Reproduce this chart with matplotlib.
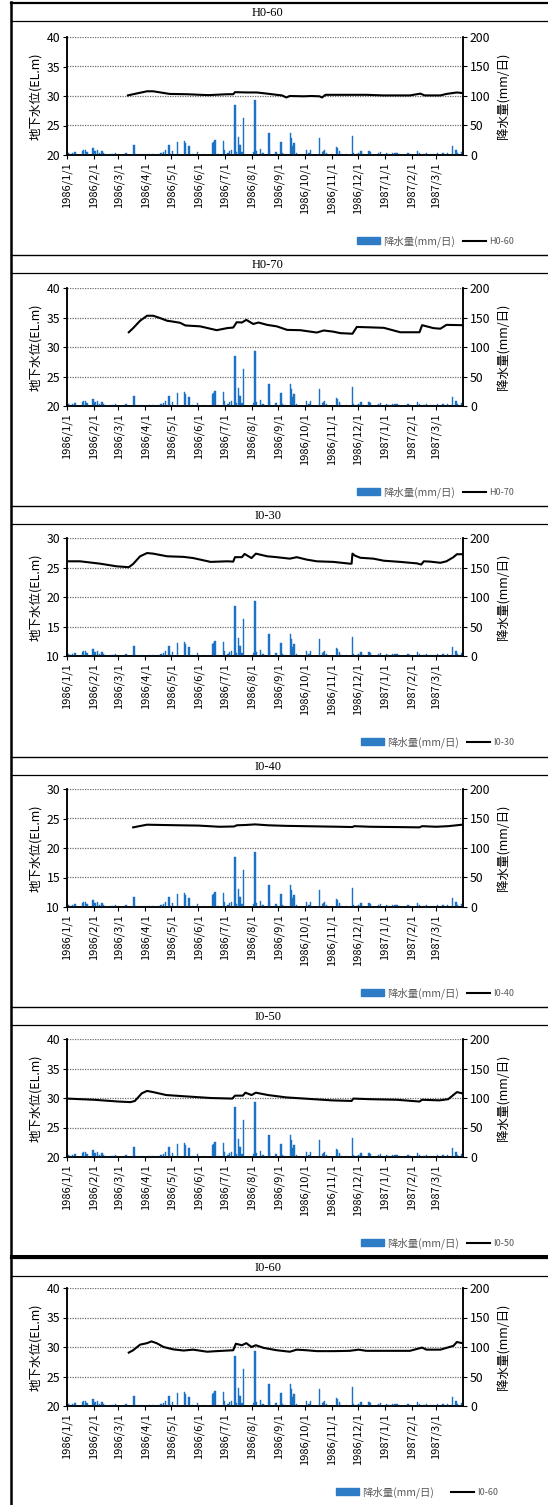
import matplotlib
matplotlib.use("Agg")
import matplotlib.pyplot as plt
from matplotlib.lines import Line2D
from matplotlib.patches import Patch
import pandas as pd

plt.rcParams["font.family"] = ["Noto Sans CJK JP", "DejaVu Sans"]

# ── Data ──────────────────────────────────────────────────────────────────────
rain_dates = [
    "1986-01-02", "1986-01-03", "1986-01-05", "1986-01-07", "1986-01-10",
    "1986-01-19", "1986-01-20", "1986-01-22", "1986-01-24", "1986-01-31",
    "1986-02-02", "1986-02-05", "1986-02-07", "1986-02-10", "1986-02-12",
    "1986-02-14", "1986-02-20", "1986-02-23", "1986-02-26", "1986-03-10",
    "1986-03-19", "1986-03-21", "1986-03-25", "1986-03-29", "1986-04-05",
    "1986-04-10", "1986-04-15", "1986-04-19", "1986-04-22", "1986-04-24",
    "1986-04-28", "1986-04-29", "1986-05-02", "1986-05-08", "1986-05-16",
    "1986-05-17", "1986-05-21", "1986-05-25", "1986-05-31", "1986-06-08",
    "1986-06-17", "1986-06-18", "1986-06-19", "1986-06-20", "1986-06-24",
    "1986-06-30", "1986-07-01", "1986-07-05", "1986-07-07", "1986-07-09",
    "1986-07-13", "1986-07-14", "1986-07-17", "1986-07-18", "1986-07-19",
    "1986-07-21", "1986-07-23", "1986-08-04", "1986-08-05", "1986-08-06",
    "1986-08-11", "1986-08-14", "1986-08-21", "1986-08-22", "1986-08-29",
    "1986-09-04", "1986-09-05", "1986-09-07", "1986-09-09", "1986-09-15",
    "1986-09-16", "1986-09-17", "1986-09-19", "1986-09-22", "1986-10-03",
    "1986-10-06", "1986-10-08", "1986-10-18", "1986-10-22", "1986-10-23",
    "1986-10-24", "1986-10-26", "1986-11-07", "1986-11-08", "1986-11-10",
    "1986-11-12", "1986-11-18", "1986-11-25", "1986-11-26", "1986-11-30",
    "1986-12-02", "1986-12-04", "1986-12-05", "1986-12-07", "1986-12-14",
    "1986-12-16", "1986-12-25", "1986-12-27", "1987-01-03", "1987-01-05",
    "1987-01-10", "1987-01-13", "1987-01-15", "1987-01-18", "1987-01-28",
    "1987-01-30", "1987-02-08", "1987-02-10", "1987-02-15", "1987-02-18",
    "1987-02-23", "1987-02-26", "1987-03-03", "1987-03-09", "1987-03-14",
    "1987-03-20", "1987-03-24", "1987-03-26", "1987-03-31",
]
rain_mm = [
    4, 3, 2, 3, 5,
    7, 8, 8, 5, 12,
    6, 8, 3, 6, 3,
    2, 2, 2, 3, 3,
    17, 2, 1, 1, 2,
    1, 2, 3, 5, 8,
    17, 3, 7, 22, 24,
    20, 16, 2, 5, 2,
    20, 20, 22, 25, 2,
    24, 8, 3, 6, 8,
    85, 5, 30, 17, 17,
    5, 63, 5, 94, 6,
    11, 3, 38, 8, 5,
    22, 3, 2, 2, 38,
    28, 16, 21, 3, 9,
    4, 8, 29, 5, 7,
    8, 4, 13, 12, 7,
    2, 2, 33, 3, 2,
    3, 4, 6, 2, 7,
    5, 3, 5, 4, 2,
    3, 3, 3, 2, 3,
    2, 7, 3, 2, 4,
    2, 2, 3, 3, 3,
    16, 8, 4, 5,
]

h060_dates = [
    "1986-03-12", "1986-03-18", "1986-04-03", "1986-04-10", "1986-04-29",
    "1986-05-19", "1986-06-03", "1986-06-13", "1986-07-04", "1986-07-11",
    "1986-07-13", "1986-07-27", "1986-08-07", "1986-08-19", "1986-08-30",
    "1986-09-05", "1986-09-10", "1986-09-14", "1986-09-30", "1986-10-09",
    "1986-10-18", "1986-10-21", "1986-10-25", "1986-11-22", "1986-12-11",
    "1986-12-31", "1987-01-30", "1987-02-11", "1987-02-16", "1987-03-06",
    "1987-03-13", "1987-03-25", "1987-03-31",
]
h060_level = [
    30.1, 30.3, 30.8, 30.8, 30.35,
    30.3, 30.2, 30.15, 30.3, 30.3,
    30.65, 30.6, 30.6, 30.4, 30.2,
    30.1, 29.75, 30.0, 29.95, 30.0,
    29.95, 29.75, 30.2, 30.2, 30.2,
    30.1, 30.1, 30.4, 30.1, 30.1,
    30.35, 30.6, 30.5,
]

h070_dates = [
    "1986-03-13", "1986-03-18", "1986-03-26", "1986-04-03", "1986-04-10",
    "1986-04-18", "1986-04-26", "1986-05-03", "1986-05-11", "1986-05-17",
    "1986-06-03", "1986-06-22", "1986-07-04", "1986-07-11", "1986-07-15",
    "1986-07-21", "1986-07-26", "1986-08-03", "1986-08-09", "1986-08-19",
    "1986-08-30", "1986-09-11", "1986-09-26", "1986-10-15", "1986-10-23",
    "1986-11-03", "1986-11-11", "1986-11-25", "1986-11-30", "1986-12-11",
    "1986-12-31", "1987-01-19", "1987-02-07", "1987-02-10", "1987-02-13",
    "1987-02-26", "1987-03-06", "1987-03-13", "1987-03-31",
]
h070_level = [
    32.5, 33.2, 34.45, 35.3, 35.3,
    34.9, 34.45, 34.3, 34.1, 33.65,
    33.5, 32.85, 33.2, 33.3, 34.2,
    34.15, 34.6, 33.9, 34.15, 33.75,
    33.5, 32.9, 32.85, 32.45, 32.8,
    32.6, 32.35, 32.25, 33.4, 33.35,
    33.25, 32.5, 32.5, 32.5, 33.7,
    33.2, 33.1, 33.75, 33.7,
]

i030_dates = [
    "1986-01-01", "1986-01-16", "1986-02-08", "1986-02-27", "1986-03-13",
    "1986-03-18", "1986-03-26", "1986-04-03", "1986-04-10", "1986-04-26",
    "1986-05-15", "1986-05-26", "1986-06-15", "1986-07-04", "1986-07-11",
    "1986-07-13", "1986-07-21", "1986-07-24", "1986-08-01", "1986-08-06",
    "1986-08-19", "1986-08-30", "1986-09-14", "1986-09-22", "1986-10-03",
    "1986-10-15", "1986-11-03", "1986-11-22", "1986-11-24", "1986-11-25",
    "1986-11-28", "1986-12-04", "1986-12-19", "1986-12-31", "1987-01-19",
    "1987-02-07", "1987-02-12", "1987-02-15", "1987-02-22", "1987-03-06",
    "1987-03-13", "1987-03-21", "1987-03-25", "1987-03-31",
]
i030_level = [
    26.05, 26.05, 25.65, 25.2, 25.05,
    25.6, 26.9, 27.45, 27.35, 26.9,
    26.8, 26.6, 25.95, 26.05, 26.0,
    26.75, 26.75, 27.3, 26.6, 27.35,
    26.9, 26.75, 26.5, 26.75, 26.35,
    26.05, 25.95, 25.65, 25.65, 27.35,
    27.0, 26.65, 26.5, 26.15, 25.95,
    25.7, 25.5, 26.05, 26.0, 25.8,
    26.05, 26.75, 27.25, 27.25,
]

i040_dates = [
    "1986-03-18", "1986-03-25", "1986-04-03", "1986-04-20", "1986-05-10",
    "1986-06-01", "1986-06-25", "1986-07-12", "1986-07-15", "1986-07-25",
    "1986-08-05", "1986-08-20", "1986-09-10", "1986-10-01", "1986-10-20",
    "1986-11-10", "1986-11-25", "1986-11-27", "1986-12-15", "1987-01-15",
    "1987-02-10", "1987-02-13", "1987-03-01", "1987-03-15", "1987-03-31",
]
i040_level = [
    23.5, 23.7, 23.95, 23.9, 23.85,
    23.8, 23.6, 23.65, 23.85, 23.9,
    24.0, 23.85, 23.75, 23.7, 23.65,
    23.6, 23.55, 23.7, 23.6, 23.55,
    23.5, 23.7, 23.6, 23.7, 23.95,
]

i050_dates = [
    "1986-01-01", "1986-02-01", "1986-03-01", "1986-03-15", "1986-03-20",
    "1986-03-28", "1986-04-03", "1986-04-10", "1986-04-25", "1986-05-15",
    "1986-06-15", "1986-07-10", "1986-07-13", "1986-07-22", "1986-07-25",
    "1986-08-01", "1986-08-06", "1986-08-20", "1986-09-10", "1986-10-01",
    "1986-11-01", "1986-11-24", "1986-11-26", "1986-12-15", "1987-01-15",
    "1987-02-10", "1987-02-13", "1987-03-05", "1987-03-15", "1987-03-25",
    "1987-03-31",
]
i050_level = [
    29.9, 29.7, 29.4, 29.3, 29.5,
    30.8, 31.2, 31.0, 30.5, 30.3,
    30.0, 29.9, 30.4, 30.4, 30.9,
    30.5, 30.9, 30.5, 30.1, 29.9,
    29.6, 29.5, 29.9, 29.8, 29.7,
    29.4, 29.7, 29.6, 29.8, 31.0,
    30.8,
]

i060_dates = [
    "1986-03-13", "1986-03-18", "1986-03-26", "1986-04-03", "1986-04-08",
    "1986-04-14", "1986-04-22", "1986-05-03", "1986-05-15", "1986-05-26",
    "1986-06-11", "1986-06-22", "1986-07-11", "1986-07-14", "1986-07-21",
    "1986-07-26", "1986-08-01", "1986-08-06", "1986-08-15", "1986-08-30",
    "1986-09-14", "1986-09-22", "1986-10-03", "1986-10-15", "1986-11-03",
    "1986-11-22", "1986-12-02", "1986-12-11", "1986-12-31", "1987-01-30",
    "1987-02-13", "1987-02-18", "1987-03-06", "1987-03-13", "1987-03-21",
    "1987-03-25", "1987-03-31",
]
i060_level = [
    29.05, 29.45, 30.4, 30.65, 30.95,
    30.65, 30.0, 29.6, 29.4, 29.55,
    29.2, 29.3, 29.45, 30.55, 30.3,
    30.65, 30.0, 30.3, 29.85, 29.45,
    29.2, 29.55, 29.45, 29.3, 29.3,
    29.35, 29.55, 29.35, 29.35, 29.35,
    29.9, 29.55, 29.55, 29.85, 30.2,
    30.85, 30.65,
]

well_names = ["H0-60", "H0-70", "I0-30", "I0-40", "I0-50", "I0-60"]
well_dates = [h060_dates, h070_dates, i030_dates, i040_dates, i050_dates, i060_dates]
well_levels = [h060_level, h070_level, i030_level, i040_level, i050_level, i060_level]
level_limits = [(20, 40), (20, 40), (10, 30), (10, 30), (20, 40), (20, 40)]

month_ticks = pd.date_range("1986-01-01", "1987-03-01", freq="MS")
month_labels = [f"{d.year}/{d.month}/{d.day}" for d in month_ticks]

# ── Style ─────────────────────────────────────────────────────────────────────
C_BAR = "#1C72C4"
C_LEG_BAR = "#2E7CC6"
C_GRID = "#6E6E6E"
C_LEGTXT = "#595959"

W_PX, H_PX = 548, 1505
fig = plt.figure(figsize=(W_PX / 100, H_PX / 100), dpi=100, facecolor="white")


def fx(x):
    return x / W_PX


def fy(y):
    return 1 - y / H_PX


def hline(y, lw):
    fig.add_artist(Line2D([fx(11), 1], [fy(y), fy(y)], lw=lw, color="black",
                          transform=fig.transFigure))


# frame
fig.add_artist(Line2D([fx(11), fx(11)], [0, fy(2)], lw=1.8, color="black",
                      transform=fig.transFigure))

panel_tops = [3, 255, 506, 757, 1007, 1258]
axes_tops = [37, 288, 538, 789, 1039, 1288]
AX_L, AX_W, AX_H = 67, 396, 118

rain_x = pd.to_datetime(rain_dates)

for i, name in enumerate(well_names):
    pt = panel_tops[i]
    hline(pt, 1.6 if i in (0, 5) else 1.0)
    if i == 5:
        hline(pt - 2, 2.2)
    hline(pt + 18, 0.9)
    fig.text(fx(268), fy(pt + 10), name, ha="center", va="center",
             fontsize=9, family=["Liberation Serif", "DejaVu Serif"])

    top = axes_tops[i]
    ax = fig.add_axes([fx(AX_L), fy(top + AX_H), AX_W / W_PX, AX_H / H_PX])
    ax2 = ax.twinx()
    ax.set_zorder(ax2.get_zorder() + 1)
    ax.patch.set_visible(False)

    # rain bars (right axis)
    ax2.bar(rain_x, rain_mm, width=1.6, color=C_BAR, edgecolor=C_BAR,
            linewidth=0.3, zorder=3)
    ax2.set_ylim(0, 200)
    ax2.set_yticks([0, 50, 100, 150, 200])
    ax2.set_axisbelow(True)
    ax2.grid(True, axis="both", linestyle=(0, (1, 1)), color=C_GRID, lw=0.9)

    # water level (left axis)
    ax.plot(pd.to_datetime(well_dates[i]), well_levels[i], color="black",
            lw=1.5, zorder=4)
    lo, hi = level_limits[i]
    ax.set_ylim(lo, hi)
    ax.set_yticks(range(lo, hi + 1, 5))

    ax.set_xlim(pd.Timestamp("1986-01-01"), pd.Timestamp("1987-04-01"))
    ax.set_xticks(month_ticks)
    ax.set_xticklabels(month_labels, rotation=90, fontsize=8)
    ax2.set_xticks(month_ticks)

    for a in (ax, ax2):
        a.spines["top"].set_visible(False)
        for s in ("left", "right", "bottom"):
            a.spines[s].set_linewidth(1.1)
        a.tick_params(direction="out", length=3, width=0.8, labelsize=8.8,
                      pad=2)
    ax.tick_params(axis="x", labelsize=8)

    ax.set_ylabel("地下水位(EL.m)", fontsize=9, labelpad=3)
    ax2.set_ylabel("降水量(mm/日)", fontsize=9, rotation=90, labelpad=5)

    handles = [Patch(facecolor=C_LEG_BAR, edgecolor=C_LEG_BAR),
               Line2D([], [], color="black", lw=1.5)]
    right_edge = 514 if i < 5 else 498
    leg = ax.legend(handles, ["降水量(mm/日)", name], ncol=2, frameon=False,
                    loc="center right",
                    bbox_to_anchor=(fx(right_edge), fy(top + 204)),
                    bbox_transform=fig.transFigure, fontsize=7.5,
                    handlelength=2.2, handleheight=0.6, handletextpad=0.3,
                    columnspacing=0.8 if i < 5 else 1.6,
                    borderaxespad=0, borderpad=0)
    for t in leg.get_texts():
        t.set_color(C_LEGTXT)
    leg.get_texts()[1].set_fontsize(6.5)

fig.savefig("out.png", dpi=100, facecolor="white")
